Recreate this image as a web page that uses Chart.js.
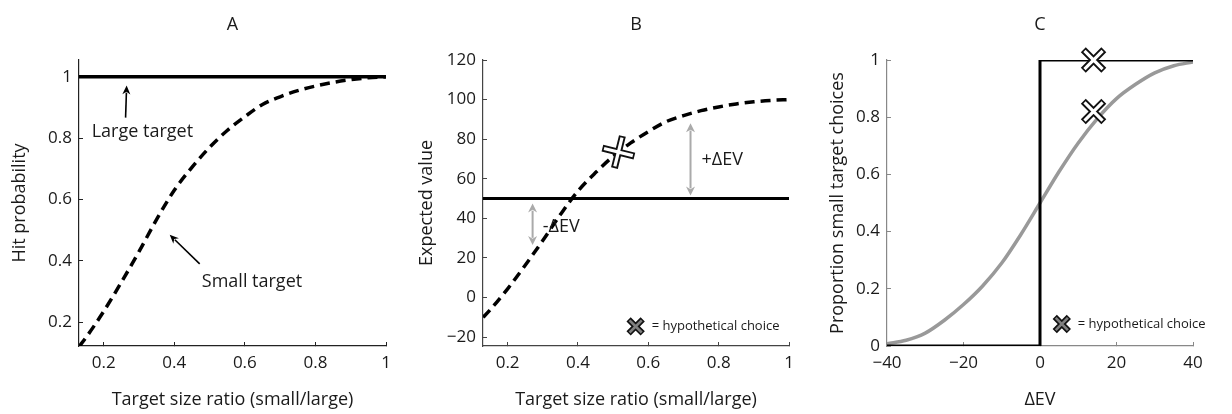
<!DOCTYPE html>
<html>
<head>
<meta charset="utf-8">
<script src="https://cdn.jsdelivr.net/npm/chart.js@4.4.1/dist/chart.umd.min.js"></script>
<style>
  html, body { margin: 0; padding: 0; background: #fff; }
  #wrap { position: relative; width: 1232px; height: 414px; }
  canvas { position: absolute; top: 0; }
</style>
</head>
<body>
<div id="wrap">
  <canvas id="chartA" width="410" height="414" style="left:0px"></canvas>
  <canvas id="chartB" width="410" height="414" style="left:410px"></canvas>
  <canvas id="chartC" width="412" height="414" style="left:820px"></canvas>
</div>
<script>
// ---- data ----
// panels A and B share the x values (target size ratio small/large)
const sizeRatio = [0.13, 0.15, 0.2, 0.25, 0.3, 0.35, 0.4, 0.45, 0.5, 0.55, 0.6, 0.65, 0.7, 0.75, 0.8, 0.85, 0.9, 0.95, 1.0];
const hitSmall  = [0.12, 0.15, 0.235, 0.33, 0.43, 0.535, 0.63, 0.705, 0.77, 0.825, 0.87, 0.91, 0.935, 0.955, 0.97, 0.982, 0.991, 0.997, 1.0];
const evSmall   = [-10, -6.3, 4.4, 16.3, 28.8, 41.9, 53.8, 63.1, 71.3, 78.1, 83.8, 88.8, 91.9, 94.4, 96.3, 97.8, 98.9, 99.6, 100];
const largeRatio = [0.13, 1.0];
const hitLarge   = [1, 1];
const evLarge    = [50, 50];

// panel C
const deltaEV    = [-40, -35, -30, -25, -20, -15, -10, -5, 0, 5, 10, 15, 20, 25, 30, 35, 40];
const pSmallSoft = [0.008, 0.02, 0.045, 0.09, 0.145, 0.21, 0.29, 0.39, 0.50, 0.61, 0.71, 0.795, 0.865, 0.915, 0.955, 0.98, 0.993];
const stepEV     = [-40, 0, 0, 40];
const pSmallStep = [0, 0, 1, 1];

// hypothetical choices
const choiceBx = [0.515];
const choiceBy = [73.5];
const choiceCx = [14, 14];
const choiceCy = [1, 0.82];

// tick labels
const ticksRatio = [0.2, 0.4, 0.6, 0.8, 1];
const ticksHitA  = [0.2, 0.4, 0.6, 0.8, 1];
const ticksEVB   = [-20, 0, 20, 40, 60, 80, 100, 120];
const ticksDEVC  = [-40, -20, 0, 20, 40];
const ticksPropC = [0, 0.2, 0.4, 0.6, 0.8, 1];

const FONT = '"Open Sans", Lato, sans-serif';
Chart.defaults.font.family = FONT;
Chart.defaults.color = '#1a1a1a';

const pts = (xs, ys) => xs.map((v, i) => ({ x: v, y: ys[i] }));
const fmt = v => String(v).replace('-', '\u2212');

// annotation plugin: arrows, free text and the little legend, placed in data units
const notesPlugin = {
  id: 'notes',
  afterDatasetsDraw(chart, args, opts) {
    const { ctx } = chart;
    const sx = chart.scales.x, sy = chart.scales.y;
    ctx.save();
    (opts.arrows || []).forEach(a => {
      const x1 = sx.getPixelForValue(a.x1), y1 = sy.getPixelForValue(a.y1);
      const x2 = sx.getPixelForValue(a.x2), y2 = sy.getPixelForValue(a.y2);
      const ang = Math.atan2(y2 - y1, x2 - x1);
      const c = Math.cos(ang), s = Math.sin(ang);
      ctx.strokeStyle = a.color; ctx.fillStyle = a.color; ctx.lineWidth = a.width;
      ctx.beginPath();
      ctx.moveTo(a.both ? x1 + c * a.head * 0.8 : x1, a.both ? y1 + s * a.head * 0.8 : y1);
      ctx.lineTo(x2 - c * a.head * 0.8, y2 - s * a.head * 0.8);
      ctx.stroke();
      const head = (hx, hy, an) => {
        ctx.beginPath();
        ctx.moveTo(hx, hy);
        ctx.lineTo(hx - Math.cos(an) * a.head + Math.sin(an) * a.hw, hy - Math.sin(an) * a.head - Math.cos(an) * a.hw);
        ctx.lineTo(hx - Math.cos(an) * a.head * 0.7, hy - Math.sin(an) * a.head * 0.7);
        ctx.lineTo(hx - Math.cos(an) * a.head - Math.sin(an) * a.hw, hy - Math.sin(an) * a.head + Math.cos(an) * a.hw);
        ctx.closePath();
        ctx.fill();
      };
      head(x2, y2, ang);
      if (a.both) head(x1, y1, ang + Math.PI);
    });
    (opts.texts || []).forEach(t => {
      ctx.font = (t.size || 18) + 'px ' + FONT;
      ctx.fillStyle = '#1a1a1a';
      ctx.textAlign = 'left';
      ctx.textBaseline = 'middle';
      ctx.fillText(t.text, sx.getPixelForValue(t.x), sy.getPixelForValue(t.y));
    });
    if (opts.legend) {
      const L = opts.legend;
      const px = sx.getPixelForValue(L.x), py = sy.getPixelForValue(L.y);
      ctx.strokeStyle = '#111'; ctx.lineWidth = 6;
      Chart.helpers.drawPoint(ctx, { pointStyle: 'crossRot', radius: 10, rotation: 0, borderWidth: 6 }, px, py);
      ctx.strokeStyle = '#808080'; ctx.lineWidth = 2.6;
      Chart.helpers.drawPoint(ctx, { pointStyle: 'crossRot', radius: 8.6, rotation: 0, borderWidth: 2.6 }, px, py);
      ctx.font = '13px ' + FONT;
      ctx.fillStyle = '#1a1a1a';
      ctx.textAlign = 'left';
      ctx.textBaseline = 'middle';
      ctx.fillText('= hypothetical choice', px + 16, py);
    }
    ctx.restore();
  }
};

// outlined white cross: thick dark stroke underneath, thin white stroke on top
function markerSets(xs, ys, style, rot, r) {
  return [
    { data: pts(xs, ys), order: 0, showLine: false, pointStyle: style, pointRotation: rot,
      pointRadius: r - 1.7, pointBorderWidth: 3.2, pointBorderColor: '#fff', clip: false },
    { data: pts(xs, ys), order: 1, showLine: false, pointStyle: style, pointRotation: rot,
      pointRadius: r, pointBorderWidth: 7, pointBorderColor: '#111', clip: false }
  ];
}

function makeOptions(p) {
  return {
    responsive: false,
    animation: false,
    layout: { padding: { left: 0, right: p.padRight, top: 0, bottom: 0 } },
    elements: { point: { radius: 0 }, line: { fill: false } },
    plugins: {
      legend: { display: false },
      tooltip: { enabled: false },
      title: {
        display: true, text: p.title, fullSize: false, color: '#1a1a1a',
        font: { size: 18, weight: 'normal', lineHeight: 1.2 },
        padding: { top: 14, bottom: 24.4 }
      },
      notes: p.notes
    },
    scales: {
      x: {
        type: 'linear', min: p.xMin, max: p.xMax,
        afterBuildTicks: s => { s.ticks = p.xTicks.map(v => ({ value: v })); },
        afterFit: s => { s.height = 68; },
        grid: { display: true, drawOnChartArea: false, drawTicks: true, tickLength: -4, color: p.axisColor, lineWidth: 1 },
        border: { display: true, color: p.axisColor, width: 1.2 },
        ticks: { padding: 11, maxRotation: 0, font: { size: 17 }, callback: v => fmt(v) },
        title: { display: true, text: p.xTitle, font: { size: 18 }, padding: { top: 0, bottom: 3 } }
      },
      y: {
        type: 'linear', min: p.yMin, max: p.yMax,
        afterBuildTicks: s => { s.ticks = p.yTicks.map(v => ({ value: v })); },
        afterFit: s => { s.width = p.yWidth; },
        grid: { display: true, drawOnChartArea: false, drawTicks: true, tickLength: -4, color: p.axisColor, lineWidth: 1 },
        border: { display: true, color: p.axisColor, width: 1.2 },
        ticks: { padding: 11, font: { size: 17 }, callback: v => fmt(v) },
        title: { display: true, text: p.yTitle, font: { size: 18 }, padding: { top: p.yTitlePad, bottom: 0 } }
      }
    }
  };
}

// ---- A ----
new Chart(document.getElementById('chartA'), {
  type: 'line',
  data: {
    datasets: [
      { data: pts(largeRatio, hitLarge), order: 3, borderColor: '#000', borderWidth: 3.5 },
      { data: pts(sizeRatio, hitSmall), order: 2, borderColor: '#000', borderWidth: 3.5, borderDash: [10, 6],
        cubicInterpolationMode: 'monotone' }
    ]
  },
  options: makeOptions({
    title: 'A', padRight: 24, yWidth: 79, yTitlePad: 9, axisColor: '#222',
    xMin: 0.13, xMax: 1, yMin: 0.122, yMax: 1.055,
    xTicks: ticksRatio, yTicks: ticksHitA,
    xTitle: 'Target size ratio (small/large)', yTitle: 'Hit probability',
    notes: {
      texts: [
        { x: 0.166, y: 0.82, text: 'Large target' },
        { x: 0.478, y: 0.33, text: 'Small target' }
      ],
      arrows: [
        { x1: 0.262, y1: 0.867, x2: 0.265, y2: 0.972, color: '#000', width: 1.6, head: 9, hw: 4 },
        { x1: 0.472, y1: 0.39, x2: 0.387, y2: 0.485, color: '#000', width: 1.6, head: 9, hw: 4 }
      ]
    }
  }),
  plugins: [notesPlugin]
});

// ---- B ----
new Chart(document.getElementById('chartB'), {
  type: 'line',
  data: {
    datasets: [
      { data: pts(largeRatio, evLarge), order: 3, borderColor: '#000', borderWidth: 3 },
      { data: pts(sizeRatio, evSmall), order: 2, borderColor: '#000', borderWidth: 3.5, borderDash: [10, 6],
        cubicInterpolationMode: 'monotone' },
      ...markerSets(choiceBx, choiceBy, 'cross', 14, 16.5)
    ]
  },
  options: makeOptions({
    title: 'B', padRight: 31, yWidth: 73, yTitlePad: 6, axisColor: '#444',
    xMin: 0.13, xMax: 1, yMin: -24.5, yMax: 120,
    xTicks: ticksRatio, yTicks: ticksEVB,
    xTitle: 'Target size ratio (small/large)', yTitle: 'Expected value',
    notes: {
      texts: [
        { x: 0.751, y: 69.7, text: '+\u0394EV' },
        { x: 0.30, y: 35.9, text: '-\u0394EV' }
      ],
      arrows: [
        { x1: 0.72, y1: 51.5, x2: 0.72, y2: 88, color: '#aaa', width: 2, head: 9, hw: 4.5, both: true },
        { x1: 0.271, y1: 47.5, x2: 0.271, y2: 26.5, color: '#aaa', width: 2, head: 9, hw: 4.5, both: true }
      ],
      legend: { x: 0.564, y: -14.6 }
    }
  }),
  plugins: [notesPlugin]
});

// ---- C ----
new Chart(document.getElementById('chartC'), {
  type: 'line',
  data: {
    datasets: [
      { data: pts(deltaEV, pSmallSoft), order: 3, borderColor: '#999', borderWidth: 3.5, cubicInterpolationMode: 'monotone' },
      { data: pts(stepEV, pSmallStep), order: 2, borderColor: '#000', borderWidth: 3, tension: 0 },
      ...markerSets(choiceCx, choiceCy, 'crossRot', 0, 14.5)
    ]
  },
  options: makeOptions({
    title: 'C', padRight: 39, yWidth: 67, yTitlePad: 7, axisColor: '#888',
    xMin: -40, xMax: 40, yMin: 0, yMax: 1,
    xTicks: ticksDEVC, yTicks: ticksPropC,
    xTitle: '\u0394EV', yTitle: 'Proportion small target choices',
    notes: { legend: { x: 5.7, y: 0.077 } }
  }),
  plugins: [notesPlugin]
});
</script>
</body>
</html>
